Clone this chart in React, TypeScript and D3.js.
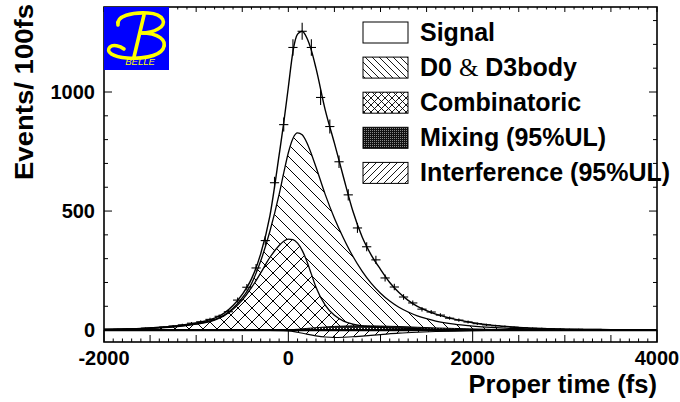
import React from 'react';
import * as d3 from 'd3';

// ---- data ----
const timeGrid = [-2000, -1800, -1600, -1400, -1200, -1000, -900, -800, -700, -600, -500, -400, -300, -200, -100,
  -50, 0, 50, 100, 150, 200, 250, 300, 400, 500, 600, 700, 800, 900, 1000, 1100, 1200, 1300, 1400, 1500, 1600,
  1800, 2000, 2200, 2400, 2600, 2800, 3000, 3500, 4000];
const totalFit = [3, 4, 7, 12, 19, 30, 38, 50, 70, 103, 150, 215, 320, 480, 735,
  870, 1020, 1170, 1243, 1255, 1228, 1175, 1100, 925, 785, 640, 500, 392, 315, 255, 200, 158, 125, 100, 82, 67,
  46, 31, 21, 14, 9, 6, 4, 2, 1];
const d0Stack = [3, 4, 6, 10, 16, 26, 33, 44, 62, 92, 135, 195, 290, 415, 570,
  660, 745, 805, 828, 820, 788, 740, 685, 570, 470, 385, 310, 248, 196, 155, 122, 96, 76, 60, 48, 38,
  25, 17, 11, 7, 5, 3, 2, 1, 0];
const combFit = [3, 4, 6, 9, 15, 25, 31, 42, 59, 87, 126, 178, 240, 305, 355,
  373, 382, 380, 365, 335, 290, 235, 180, 105, 62, 38, 25, 18, 14, 11, 9, 8, 7, 6, 5, 4,
  3, 2, 2, 1, 1, 1, 1, 0, 0];
const mixTime = [-200, 0, 200, 400, 600, 800, 1000, 1200, 1400, 1600, 1800, 2000, 2200, 2500, 3000];
const mixFit = [0, 1, 7, 13, 17, 18, 17, 15, 12, 9, 7, 5, 3, 2, 0];
const interfTime = [-300, 0, 100, 200, 300, 400, 500, 600, 700, 800, 1000, 1200, 1400, 1600, 1800, 2000, 2300];
const interfFit = [0, -3, -9, -17, -24, -29, -31, -30, -28, -25, -19, -13, -9, -6, -4, -2, 0];
const binCenters = d3.range(-1950, 4000, 100);
const counts = [3, 4, 5, 6, 8, 10, 13, 17, 22, 29, 35, 45, 58, 77, 126, 180, 261, 376, 619, 863,
  1187, 1255, 1187, 977, 855, 707, 568, 429, 350, 295, 219, 181, 139, 114, 88, 76, 63, 50, 42, 34,
  27, 22, 18, 15, 12, 10, 8, 7, 6, 5, 4, 4, 3, 3, 2, 2, 2, 1, 1, 1];
const xTickValues = [-2000, 0, 2000, 4000];
const xTickLabels = ['-2000', '0', '2000', '4000'];
const yTickValues = [0, 500, 1000];
const yTickLabels = ['0', '500', '1000'];
const legendLabels = ['Signal', 'D0 & D3body', 'Combinatoric', 'Mixing (95%UL)', 'Interference (95%UL)'];
const legendFills = ['white', 'url(#lgBack)', 'url(#lgCross)', 'url(#lgDots)', 'url(#lgFwd)'];

const SANS = '"Liberation Sans", Arial, Helvetica, sans-serif';

function hatchPattern(id: string, s: number, back: boolean, fwd: boolean, sw: number) {
  const parts: string[] = [];
  if (back) parts.push(`M${-1},${-1} L${s + 1},${s + 1} M${-1},${s - 1} L1,${s + 1} M${s - 1},-1 L${s + 1},1`);
  if (fwd) parts.push(`M-1,${s + 1} L${s + 1},-1 M-1,1 L1,-1 M${s - 1},${s + 1} L${s + 1},${s - 1}`);
  return (
    <pattern id={id} key={id} patternUnits="userSpaceOnUse" width={s} height={s}>
      <path d={parts.join(' ')} stroke="black" strokeWidth={sw} fill="none" />
    </pattern>
  );
}

export default function App() {
  const W = 680, H = 402;
  const L = 104, R = 657, T = 7, B = 342;
  const x = d3.scaleLinear().domain([-2000, 4000]).range([L, R]);
  const y = d3.scaleLinear().domain([-50, 1357]).range([B, T]);
  const y0 = y(0);

  const pts = (ts: number[], vs: number[]) => ts.map((t, i) => [t, vs[i]] as [number, number]);
  const line = d3.line<[number, number]>().x(d => x(d[0])).y(d => y(d[1])).curve(d3.curveMonotoneX);
  const areaBase = d3.area<[number, number]>().x(d => x(d[0])).y0(y0).y1(d => y(d[1])).curve(d3.curveMonotoneX);
  const idx = timeGrid.map((_, i) => i);
  const band = d3.area<number>().x(i => x(timeGrid[i])).y0(i => y(combFit[i])).y1(i => y(d0Stack[i])).curve(d3.curveMonotoneX);

  const xTicks = d3.range(-2000, 4001, 100);
  const yTicks = d3.range(0, 1301, 100);

  return (
    <svg width={W} height={H} style={{ position: 'absolute', left: 0, top: 0, display: 'block', background: 'white' }}>
      <defs>
        {hatchPattern('pBack', 12, true, false, 1)}
        {hatchPattern('pFwd', 10, false, true, 1)}
        {hatchPattern('pCross', 14, true, true, 1)}
        <pattern id="pDots" patternUnits="userSpaceOnUse" width={3} height={3}>
          <rect width={3} height={3} fill="#222" />
          <rect x={1} y={1} width={1} height={1} fill="white" />
        </pattern>
        {hatchPattern('lgBack', 7, true, false, 0.9)}
        {hatchPattern('lgFwd', 7, false, true, 0.9)}
        {hatchPattern('lgCross', 7, true, true, 0.9)}
        <pattern id="lgDots" patternUnits="userSpaceOnUse" width={2} height={2}>
          <rect width={2} height={2} fill="#111" />
          <rect x={0} y={0} width={1} height={1} fill="#888" />
        </pattern>
        <clipPath id="plotClip"><rect x={L} y={T} width={R - L} height={B - T} /></clipPath>
      </defs>

      <g clipPath="url(#plotClip)">
        <path d={areaBase(pts(timeGrid, combFit)) || ''} fill="url(#pCross)" />
        <path d={band(idx) || ''} fill="url(#pBack)" />
        <path d={areaBase(pts(interfTime, interfFit)) || ''} fill="url(#pFwd)" />
        <path d={areaBase(pts(mixTime, mixFit)) || ''} fill="url(#pDots)" />

        <path d={line(pts(timeGrid, combFit)) || ''} fill="none" stroke="black" strokeWidth={1.3} />
        <path d={line(pts(timeGrid, d0Stack)) || ''} fill="none" stroke="black" strokeWidth={1.3} />
        <path d={line(pts(timeGrid, totalFit)) || ''} fill="none" stroke="black" strokeWidth={1.4} />
        <path d={line(pts(mixTime, mixFit)) || ''} fill="none" stroke="black" strokeWidth={1} />
        <path d={line(pts(interfTime, interfFit)) || ''} fill="none" stroke="black" strokeWidth={1.2} />
        <line x1={L} x2={R} y1={y0} y2={y0} stroke="black" strokeWidth={2.2} />

        {binCenters.map((c, i) => {
          const n = counts[i];
          const e = Math.sqrt(n);
          return (
            <g key={c} stroke="black" strokeWidth={1.1}>
              <line x1={x(c - 50)} x2={x(c + 50)} y1={y(n)} y2={y(n)} />
              <line x1={x(c)} x2={x(c)} y1={y(n - e)} y2={y(n + e)} />
            </g>
          );
        })}
      </g>

      {/* frame and ticks */}
      <rect x={L} y={T} width={R - L} height={B - T} fill="none" stroke="black" strokeWidth={1.6} />
      <g stroke="black" strokeWidth={1}>
        {xTicks.map(t => {
          const lb = t % 2000 === 0 ? 12 : t % 500 === 0 ? 7 : 3.5;
          const lt = t % 500 === 0 ? 5 : 2.5;
          return (
            <g key={t}>
              <line x1={x(t)} x2={x(t)} y1={B} y2={B - lb} />
              <line x1={x(t)} x2={x(t)} y1={T} y2={T + lt} />
            </g>
          );
        })}
        {yTicks.map(v => {
          const ln = v % 500 === 0 ? 8 : 4;
          return (
            <g key={v}>
              <line x1={L} x2={L + ln} y1={y(v)} y2={y(v)} />
              <line x1={R} x2={R - ln} y1={y(v)} y2={y(v)} />
            </g>
          );
        })}
      </g>

      <g fontFamily={SANS} fontWeight="bold" fontSize={20} fill="black">
        {xTickValues.map((t, i) => (
          <text key={t} x={x(t)} y={365} textAnchor="middle">{xTickLabels[i]}</text>
        ))}
        {yTickValues.map((v, i) => (
          <text key={v} x={95} y={y(v) + 7} textAnchor="end">{yTickLabels[i]}</text>
        ))}
      </g>
      <text x={R} y={393} textAnchor="end" fontFamily={SANS} fontWeight="bold" fontSize={25.5}>Proper time (fs)</text>
      <text transform={`translate(33,${T - 3}) rotate(-90)`} textAnchor="end" fontFamily={SANS} fontWeight="bold" fontSize={25}
        textLength={176} lengthAdjust="spacingAndGlyphs">Events/ 100fs</text>

      {/* legend */}
      <g>
        {legendLabels.map((lab, i) => {
          const cy = 32.5 + i * 35.1;
          return (
            <g key={lab}>
              <rect x={363} y={cy - 10.5} width={45} height={21} fill={legendFills[i]} stroke="black" strokeWidth={1} />
              <text x={420} y={cy + 8.5} fontFamily={SANS} fontWeight="bold" fontSize={25}>
                {i === 1 ? (
                  <>
                    <tspan>D0 </tspan>
                    <tspan fontFamily='"Liberation Serif", "Times New Roman", serif' fontWeight="normal">&amp;</tspan>
                    <tspan> D3body</tspan>
                  </>
                ) : lab}
              </text>
            </g>
          );
        })}
      </g>

      {/* Belle logo */}
      <g>
        <rect x={L} y={T} width={65} height={63} fill="#0000ff" />
        <g fill="none" stroke="#ffff00" strokeWidth={3.6} strokeLinecap="round">
          <path d="M118,25 C116,16 132,12 148,13 C164,14 168,24 158,29 C153,32 147,33 141,33" />
          <path d="M141,33 C158,33 168,40 163,49 C158,57 140,59 127,58 C113,57 105,52 110,47 C113,44 120,46 124,49" />
          <path d="M144,15 L134,57" />
        </g>
        <text x={140} y={65} textAnchor="middle" fontFamily={SANS} fontStyle="italic" fontSize={9.5} fill="#ffff00">BELLE</text>
      </g>
    </svg>
  );
}
